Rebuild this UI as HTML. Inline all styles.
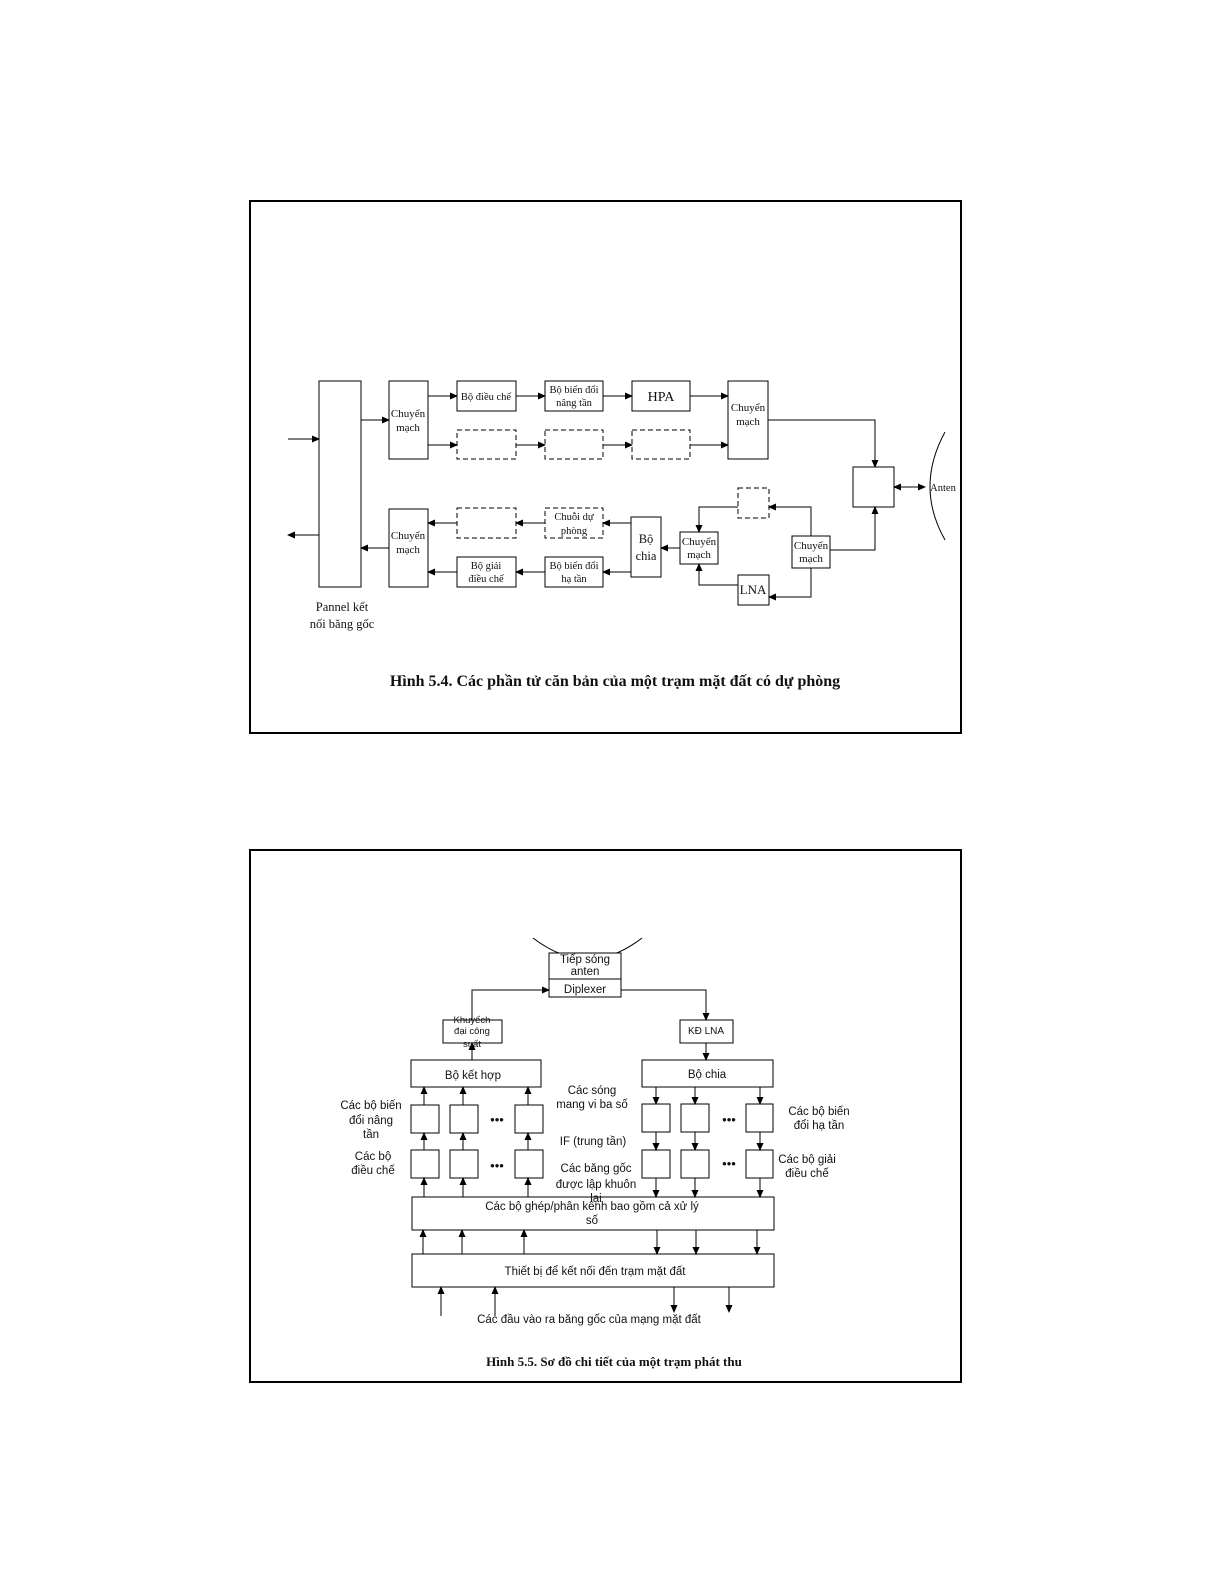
<!DOCTYPE html>
<html><head><meta charset="utf-8"><style>
html,body{margin:0;padding:0;background:#fff}
svg{display:block}
.s{font-family:"Liberation Serif",serif;font-size:11px;fill:#111}
.a{font-family:"Liberation Sans",sans-serif;font-size:11.5px;fill:#111}
</style></head><body>
<svg width="1225" height="1585" viewBox="0 0 1225 1585" xmlns="http://www.w3.org/2000/svg">
<defs><marker id="m" markerWidth="8" markerHeight="8" refX="7" refY="4" orient="auto" markerUnits="userSpaceOnUse"><path d="M0,0.5 L8,4 L0,7.5 Z" fill="#000"/></marker>
<marker id="ms" markerWidth="8" markerHeight="8" refX="1" refY="4" orient="auto" markerUnits="userSpaceOnUse"><path d="M8,0.5 L0,4 L8,7.5 Z" fill="#000"/></marker></defs>
<rect x="250" y="201" width="711" height="532" fill="none" stroke="#000" stroke-width="2"/>
<rect x="250" y="850" width="711" height="532" fill="none" stroke="#000" stroke-width="2"/>
<g fill="#fff" stroke="#000" stroke-width="1">
<rect x="319" y="381" width="42" height="206"/>
<rect x="389" y="381" width="39" height="78"/>
<rect x="389" y="509" width="39" height="78"/>
<rect x="457" y="381" width="59" height="30"/>
<rect x="545" y="381" width="58" height="30"/>
<rect x="632" y="381" width="58" height="30"/>
<rect x="728" y="381" width="40" height="78"/>
<rect x="853" y="467" width="41" height="40"/>
<rect x="457" y="557" width="59" height="30"/>
<rect x="545" y="557" width="58" height="30"/>
<rect x="631" y="517" width="30" height="60"/>
<rect x="680" y="532" width="38" height="32"/>
<rect x="738" y="575" width="31" height="30"/>
<rect x="792" y="536" width="38" height="32"/>
</g>
<g fill="none" stroke="#000" stroke-dasharray="5,3">
<rect x="457" y="430" width="59" height="29"/><rect x="545" y="430" width="58" height="29"/><rect x="632" y="430" width="58" height="29"/>
<rect x="457" y="508" width="59" height="30"/><rect x="545" y="508" width="58" height="30"/><rect x="738" y="488" width="31" height="30"/>
</g>
<g stroke="#000" fill="none" marker-end="url(#m)">
<path d="M288 439H319"/><path d="M319 535H288"/><path d="M361 420H389"/>
<path d="M428 396H457"/><path d="M516 396H545"/><path d="M603 396H632"/><path d="M690 396H728"/>
<path d="M428 445H457"/><path d="M516 445H545"/><path d="M603 445H632"/><path d="M690 445H728"/>
<path d="M768 420H875V467"/><path d="M830 550H875V507"/>
<path d="M811 536V507H769"/><path d="M738 507H699V532"/>
<path d="M811 568V597H769"/><path d="M738 585H699V564"/>
<path d="M680 548H661"/><path d="M631 523H603"/><path d="M631 572H603"/>
<path d="M545 523H516"/><path d="M545 572H516"/><path d="M457 523H428"/><path d="M457 572H428"/>
<path d="M389 548H361"/>
<path d="M894 487H925" marker-start="url(#ms)"/>
</g>
<path d="M945 432 Q915 487 945 540" fill="none" stroke="#000"/>
<g class="s" text-anchor="middle">
<text x="408" y="417">Chuyển</text><text x="408" y="431">mạch</text>
<text x="408" y="539">Chuyển</text><text x="408" y="553">mạch</text>
<text x="486" y="400" font-size="10.5">Bộ điều chế</text>
<text x="574" y="393" font-size="10.5">Bộ biến đổi</text><text x="574" y="406" font-size="10.5">nâng tần</text>
<text x="661" y="401" font-size="14">HPA</text>
<text x="748" y="411">Chuyển</text><text x="748" y="425">mạch</text>
<text x="943" y="491" font-size="10.5">Anten</text>
<text x="574" y="520" font-size="10.5">Chuỗi dự</text><text x="574" y="534" font-size="10.5">phòng</text>
<text x="486" y="569" font-size="10.5">Bộ giải</text><text x="486" y="582" font-size="10.5">điều chế</text>
<text x="574" y="569" font-size="10.5">Bộ biến đổi</text><text x="574" y="582" font-size="10.5">hạ tần</text>
<text x="646" y="543" font-size="12.5">Bộ</text><text x="646" y="560" font-size="12.5">chia</text>
<text x="699" y="545">Chuyển</text><text x="699" y="558">mạch</text>
<text x="811" y="549">Chuyển</text><text x="811" y="562">mạch</text>
<text x="753" y="594" font-size="13">LNA</text>
<text x="342" y="611" font-size="12.5">Pannel kết</text><text x="342" y="628" font-size="12.5">nối băng gốc</text>
<text x="615" y="686" font-size="16" font-weight="bold">Hình 5.4. Các phần tử căn bản của một trạm mặt đất có dự phòng</text>
</g>
<!-- Diagram 2 -->
<path d="M533 938 Q588 980 642 938" fill="none" stroke="#000"/>
<g fill="#fff" stroke="#000">
<rect x="549" y="953" width="72" height="26"/><rect x="549" y="979" width="72" height="18"/>
<rect x="443" y="1020" width="59" height="23"/><rect x="680" y="1020" width="53" height="23"/>
<rect x="411" y="1060" width="130" height="27"/><rect x="642" y="1060" width="131" height="27"/>
<rect x="412" y="1197" width="362" height="33"/><rect x="412" y="1254" width="362" height="33"/>
<rect x="411" y="1105" width="28" height="28"/><rect x="450" y="1105" width="28" height="28"/><rect x="515" y="1105" width="28" height="28"/>
<rect x="411" y="1150" width="28" height="28"/><rect x="450" y="1150" width="28" height="28"/><rect x="515" y="1150" width="28" height="28"/>
<rect x="642" y="1104" width="28" height="28"/><rect x="681" y="1104" width="28" height="28"/><rect x="746" y="1104" width="27" height="28"/>
<rect x="642" y="1150" width="28" height="28"/><rect x="681" y="1150" width="28" height="28"/><rect x="746" y="1150" width="27" height="28"/>
</g>
<g stroke="#000" fill="none" marker-end="url(#m)">
<path d="M472 1020V990H549"/><path d="M621 990H706V1020"/>
<path d="M472 1060V1043"/><path d="M706 1043V1060"/>
<path d="M424 1105V1087"/><path d="M463 1105V1087"/><path d="M528 1105V1087"/>
<path d="M424 1150V1133"/><path d="M463 1150V1133"/><path d="M528 1150V1133"/>
<path d="M424 1197V1178"/><path d="M463 1197V1178"/><path d="M528 1197V1178"/>
<path d="M656 1087V1104"/><path d="M695 1087V1104"/><path d="M760 1087V1104"/>
<path d="M656 1132V1150"/><path d="M695 1132V1150"/><path d="M760 1132V1150"/>
<path d="M656 1178V1197"/><path d="M695 1178V1197"/><path d="M760 1178V1197"/>
<path d="M423 1254V1230"/><path d="M462 1254V1230"/><path d="M524 1254V1230"/>
<path d="M657 1230V1254"/><path d="M696 1230V1254"/><path d="M757 1230V1254"/>
<path d="M441 1316V1287"/><path d="M495 1316V1287"/>
<path d="M674 1287V1312"/><path d="M729 1287V1312"/>
</g>
<g class="a" text-anchor="middle">
<text x="585" y="963">Tiếp sóng</text><text x="585" y="975">anten</text>
<text x="585" y="993">Diplexer</text>
<text x="472" y="1023" font-size="9.5">Khuyếch</text><text x="472" y="1034" font-size="9.5">đại công</text><text x="472" y="1047" font-size="9.5">suất</text>
<text x="706" y="1034" font-size="10">KĐ LNA</text>
<text x="473" y="1079">Bộ kết hợp</text><text x="707" y="1078">Bộ chia</text>
<text x="497" y="1124" font-size="13">•••</text><text x="497" y="1170" font-size="13">•••</text>
<text x="729" y="1124" font-size="13">•••</text><text x="729" y="1168" font-size="13">•••</text>
<text x="371" y="1109">Các bộ biến</text><text x="371" y="1124">đổi nâng</text><text x="371" y="1138">tần</text>
<text x="373" y="1160">Các bộ</text><text x="373" y="1174">điều chế</text>
<text x="592" y="1094">Các sóng</text><text x="592" y="1108">mang vi ba số</text>
<text x="593" y="1145">IF (trung tần)</text>
<text x="596" y="1172">Các băng gốc</text><text x="596" y="1188">được lập khuôn</text><text x="596" y="1202">lại</text>
<text x="819" y="1115">Các bộ biến</text><text x="819" y="1129">đổi hạ tần</text>
<text x="807" y="1163">Các bộ giải</text><text x="807" y="1177">điều chế</text>
<text x="592" y="1210">Các bộ ghép/phân kênh bao gồm cả xử lý</text><text x="592" y="1224">số</text>
<text x="595" y="1275">Thiết bị để kết nối đến trạm mặt đất</text>
<text x="589" y="1323">Các đầu vào ra băng gốc của mạng mặt đất</text>
<text x="614" y="1366" font-family="Liberation Serif,serif" font-size="13" font-weight="bold">Hình 5.5. Sơ đồ chi tiết của một trạm phát thu</text>
</g>
</svg>
</body></html>
